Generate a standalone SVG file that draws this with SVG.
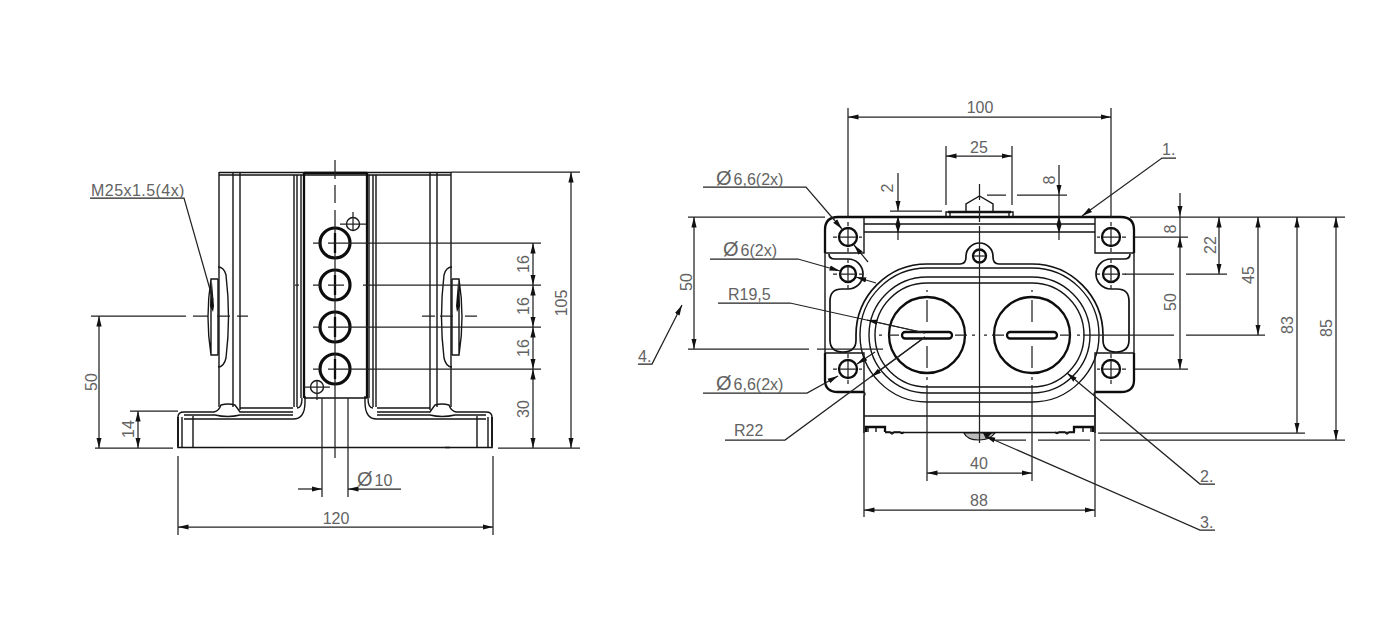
<svg xmlns="http://www.w3.org/2000/svg" xmlns:xlink="http://www.w3.org/1999/xlink" width="1380" height="631" viewBox="0 0 1380 631">
<style>
.o{fill:none;stroke:#151515;stroke-width:1.4}
.m{fill:none;stroke:#111;stroke-width:1.7}
.k{fill:none;stroke:#0d0d0d;stroke-width:2.3}
.h{fill:none;stroke:#0d0d0d;stroke-width:3.2}
.d{fill:none;stroke:#222;stroke-width:1.25}
.a{marker-start:url(#ar);marker-end:url(#ar)}
.e{marker-end:url(#ar)}
text{font-family:"Liberation Sans",Arial,sans-serif;font-size:16px;fill:#636363;text-anchor:middle}
.l{text-anchor:start}
.p{font-size:20px}
</style>
<defs>
<marker id="ar" viewBox="0 0 11 6" refX="10.5" refY="3" markerWidth="11" markerHeight="6" markerUnits="userSpaceOnUse" orient="auto-start-reverse"><path d="M0 .4L10.5 3L0 5.6z" fill="#111"/></marker>
<g id="half-left-view">
<path class="o" d="M219 172.500H335M219 175H335M219 172V407M233 172V407M240 172V410M294 175V407M297 175V407M301 175V398"/>
<path class="o" d="M178 446V417Q178 412 184 412H214Q219 411 221 405Q228 403 235 405Q238 409 240 412H293M240 408H293M184 415H215Q228 418 240 415H293M184 419H292Q305 420 305 402V396M297 408Q302 408 302 398M182 417V447M193 416V447"/>
<path class="m" d="M178 417V447.500H225"/>
<path class="o" d="M218 267Q224 267 226 275Q231 317 226 358Q224 367 218 367"/>
<path class="o" d="M218 279H211V355H218M218 279V355M211 279Q205 317 211 355"/>
<path d="M210 306L212 282L214 306L213 312z" fill="#111"/>
</g>
<g id="half-right-view">
<path class="k" d="M825 253V230Q825 217 838 217H864"/>
<path class="o" d="M864 217V253H825"/>
<path class="k" d="M825 353V380Q825 392 838 392H864"/>
<path class="o" d="M825 353H864V392"/>
<path class="o" d="M825 253V353M864 392Q866 394 864 396V433"/>
<path class="m" d="M829 254Q829 259 835 259H848A14.500 14.500 0 0 1 848 289H842Q830 289 830 301V340Q830 352 843 352Q856 352 856 340V335A71 71 0 0 1 927 264H960Q966 264 966 257A13.500 13.500 0 0 1 979.500 243"/>
<circle class="k" cx="848" cy="237" r="9"/>
<circle class="k" cx="848" cy="274" r="8"/>
<circle class="k" cx="848" cy="369" r="9"/>
<path class="d" d="M840 237H856M848 229V245M840 274H856M848 266V282M840 369H856M848 361V377"/>
<path class="d" d="M833 237H837M859 237H862M848 222V226M848 248V252M833 274H837M859 274H862M848 259V263M848 285V289M833 369H837M859 369H862M848 354V358M848 380V384"/>
<path class="k" d="M866 432V427H885V432"/>
<path class="o" d="M868 428V432M876 428V432M885 432H890Q892 436 894 432H900Q902 435 904 432"/>
<circle class="k" cx="927" cy="335" r="38"/>
<rect class="k" x="902" y="332" width="50" height="6.500" rx="3.200"/>
<path class="d" d="M927 290V292M927 300V322M927 346V368M927 377V380M879 335H882M888 335H899M955 335H967M972 335H975"/>
</g>
</defs>

<g id="side-view">
<use xlink:href="#half-left-view"/>
<use xlink:href="#half-left-view" transform="matrix(-1 0 0 1 670 0)"/>
<path class="k" d="M304 173H367M304 173V398M367 173V398"/>
<path class="m" d="M304 398H367"/>
<path class="o" d="M225 447.500H450"/>
<g id="side-holes">
<circle class="h" cx="335" cy="243" r="15"/>
<circle class="h" cx="335" cy="285" r="15"/>
<circle class="h" cx="335" cy="327" r="15"/>
<circle class="h" cx="335" cy="369" r="15"/>
<circle class="o" cx="353" cy="224" r="6.500"/>
<circle class="o" cx="317" cy="387" r="6.500"/>
<path class="d" d="M340 224H366M353 212V231M304 387H330M317 381V400"/>
</g>
<path class="d" d="M335 160V179M335 185V203M335 210V458"/>
<path class="k" d="M335 233V253M335 275V295M335 317V337M335 359V379"/>
<path class="d" d="M328 243H350M328 285H344M328 327H350M328 369H350M313 243H320M313 285H320M313 327H320M313 369H320"/>
</g>

<g id="front-view">
<use xlink:href="#half-right-view"/>
<use xlink:href="#half-right-view" transform="matrix(-1 0 0 1 1959 0)"/>
<path class="k" d="M864 217H1095M948 212H1011"/>
<path class="o" d="M864 224H1095M864 232H1095M864 416H1095M885 432.500H1075"/>
<path class="o" d="M946 216.500V212H1013V216.500M950 212V216M1009 212V216M966 212V204L979.500 196L993 204V212"/>
<path class="o" d="M927 283H1032A52 52 0 0 1 1032 387H927A52 52 0 0 1 927 283ZM927 277H1032A58 58 0 0 1 1032 393H927A58 58 0 0 1 927 277ZM927 268H1032A67 67 0 0 1 1032 402H927A67 67 0 0 1 927 268Z"/>
<circle class="k" cx="979.500" cy="256" r="6.500"/>
<path class="d" d="M973 256H986"/>
<path d="M964 433Q967 440 979 440Q990 440 995 433z" fill="#bbb" stroke="#111" stroke-width="1.200"/>
<path d="M983 433H992L986 439z" fill="#111"/>
</g>

<g id="connectors">
<!-- left view dims -->
<path class="d" d="M91 316H186M193 316H208M217 316H230M237 316H248M422 316H435M440 316H453M465 316H477"/>
<path class="d a" d="M99 316V448"/><path class="d" d="M95 448H173M130 411H178"/>
<path class="d a" d="M138 411V448"/>
<path class="d" d="M90 198H184L213 300"/>
<path class="d" d="M350 243H541M363 285H541M295 285H299M350 327H541M350 369H541M451 172H580M498 448H580"/>
<path class="d a" d="M533 243V285"/><path class="d a" d="M533 285V327"/><path class="d a" d="M533 327V369"/><path class="d a" d="M533 369V448"/>
<path class="d a" d="M571 172V448"/>
<path class="d" d="M322 398V497M348 398V497"/>
<path class="d e" d="M298 489H322"/><path class="d e" d="M401 489H348"/>
<path class="d" d="M178 456V535M493 456V535"/>
<path class="d a" d="M178 527H493"/>
<!-- right view dims -->
<path class="d" d="M848 108V217M1111 108V217M946 146V205M1012 146V205"/>
<path class="d a" d="M848 117H1111"/><path class="d a" d="M946 156H1012"/>
<path class="d" d="M890 211H942M987 195H1006M1017 195H1067"/>
<path class="d e" d="M898 173V211"/><path class="d" d="M898 217V240"/><path d="M895.500 225L898 216L900.500 225zM895.500 225L898 233L900.500 225z" fill="#111"/>
<path class="d e" d="M1059 165V195"/><path class="d" d="M1059 195V240"/><path d="M1056.500 225L1059 216L1061.500 225zM1056.500 225L1059 233L1061.500 225z" fill="#111"/>
<path class="d" d="M688 217H825M688 349H809M817 349H883"/>
<path class="d a" d="M694 217V349"/>
<path class="d" d="M1130 217H1345M1135 237H1188M1135 369H1188M1125 274H1174M1186 274H1227M1083 335H1174M1186 335H1265M1098 433H1305M1100 440H1345M993 440H1026M1038 440H1090"/>
<path class="d e" d="M1180 193V216"/><path class="d a" d="M1180 237V369"/>
<path class="d" d="M1180 216V237"/>
<path class="d a" d="M1219 217V274"/><path class="d a" d="M1258 217V335"/><path class="d a" d="M1297 217V433"/><path class="d a" d="M1336 217V440"/>
<path class="d" d="M864 392V517M1095 392V517M927 385V481M1032 385V481M979.500 184V200M979.500 206V222M979.500 226V443"/>
<path class="d a" d="M927 473H1032"/><path class="d a" d="M864 510H1095"/>
<path class="d e" d="M703 187H806L842 229"/><path class="d e" d="M868 262L854 245"/>
<path class="d e" d="M710 259H798L840 271"/><path class="d e" d="M876 283L856 277"/>
<path class="d" d="M718 303H790L925 333"/><path class="d e" d="M925 333L867 320"/>
<path class="d e" d="M703 393H807L838 376"/><path class="d e" d="M875 352L857 364"/>
<path class="d" d="M725 440H785L925 337"/><path class="d e" d="M925 337L871 377"/>
<path class="d e" d="M1176 158H1162L1082 216"/>
<path class="d e" d="M638 364H652L682 305"/>
<path class="d e" d="M1215 484H1200L1067 373"/>
<path class="d e" d="M1215 530H1200L985 436"/>
</g>

<g id="labels">
<text class="l" x="91" y="196" letter-spacing=".45">M25x1.5(4x)</text>
<text transform="translate(97 382) rotate(-90)">50</text>
<text transform="translate(134 429) rotate(-90)">14</text>
<text transform="translate(529 264) rotate(-90)">16</text>
<text transform="translate(529 306) rotate(-90)">16</text>
<text transform="translate(529 348) rotate(-90)">16</text>
<text transform="translate(529 409) rotate(-90)">30</text>
<text transform="translate(567 303) rotate(-90)">105</text>
<text class="l" x="357" y="486"><tspan class="p">Ø</tspan><tspan dx="2">10</tspan></text>
<text x="336" y="524">120</text>
<text x="980" y="113">100</text>
<text x="979" y="153">25</text>
<text class="l" x="1162" y="155">1.</text>
<text transform="translate(893 188) rotate(-90)">2</text>
<text transform="translate(1055 180) rotate(-90)">8</text>
<text class="l" x="716" y="185"><tspan class="p">Ø</tspan><tspan dx="2">6,6(2x)</tspan></text>
<text class="l" x="723" y="256"><tspan class="p">Ø</tspan><tspan dx="2">6(2x)</tspan></text>
<text class="l" x="728" y="300">R19,5</text>
<text class="l" x="716" y="390"><tspan class="p">Ø</tspan><tspan dx="2">6,6(2x)</tspan></text>
<text class="l" x="734" y="436">R22</text>
<text transform="translate(692 282) rotate(-90)">50</text>
<text class="l" x="638" y="362">4.</text>
<text transform="translate(1176 229) rotate(-90)">8</text>
<text transform="translate(1176 302) rotate(-90)">50</text>
<text transform="translate(1216 245) rotate(-90)">22</text>
<text transform="translate(1254 275) rotate(-90)">45</text>
<text transform="translate(1293 325) rotate(-90)">83</text>
<text transform="translate(1332 328) rotate(-90)">85</text>
<text x="979" y="469">40</text>
<text x="979" y="506">88</text>
<text class="l" x="1200" y="482">2.</text>
<text class="l" x="1200" y="528">3.</text>
</g>
</svg>
